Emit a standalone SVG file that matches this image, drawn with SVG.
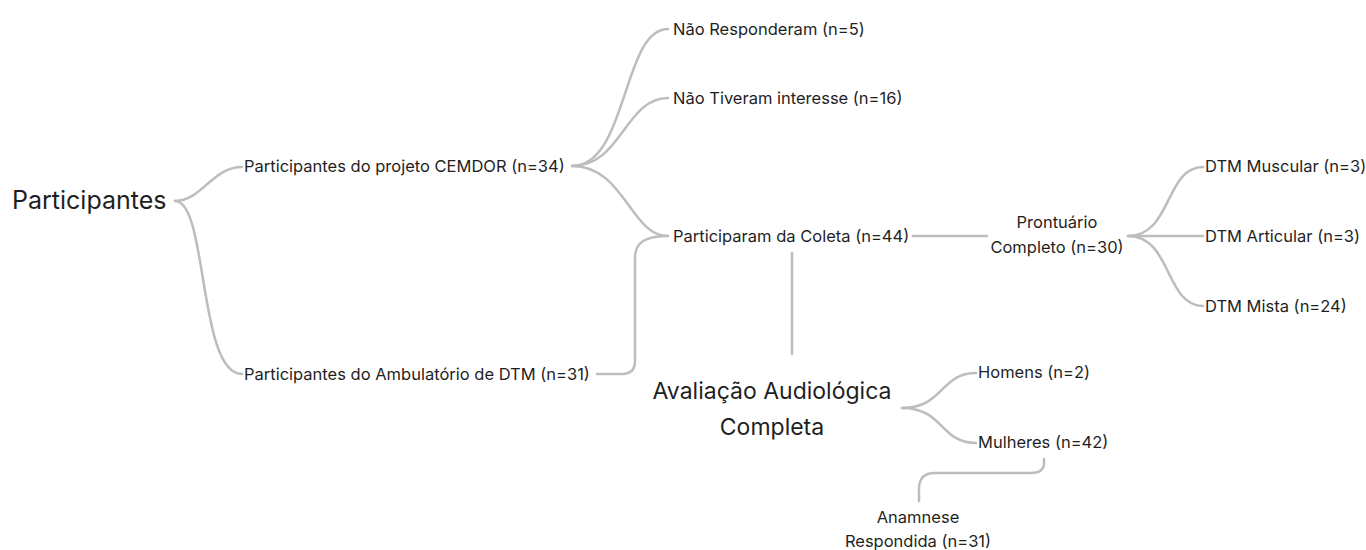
<svg xmlns="http://www.w3.org/2000/svg" width="1366" height="550" viewBox="0 0 1366 550">
<style>
text{font-family:Inter,"Noto Sans","Liberation Sans",sans-serif;fill:#1f1f1f}
.s{font-size:16.5px}
.l{font-size:23px}
.xl{font-size:25px}
.c{stroke:#bdbdbd;stroke-width:2.5;fill:none;stroke-linecap:round}
</style>
<rect width="1366" height="550" fill="#fff"/>
<g id="connectors">
<path class="c" d="M175,201 C202,201 212,167 242,167"/>
<path class="c" d="M175,201 C208,201 198,374 242,374"/>
<path class="c" d="M572,166 C628,166 622,29 668,29"/>
<path class="c" d="M572,166 C622,166 625,98 668,98"/>
<path class="c" d="M572,166 C625,166 630,236 668,236"/>
<path class="c" d="M597,374 L622,374 Q635,374 635,361 L635,258 C635,242 646,236 668,236"/>
<path class="c" d="M792,253 L792,354"/>
<path class="c" d="M913,236 L987,236"/>
<path class="c" d="M1128,236 C1172,236 1165,167 1203,167"/>
<path class="c" d="M1128,236 L1203,236"/>
<path class="c" d="M1128,236 C1172,236 1165,306 1203,306"/>
<path class="c" d="M902,408 C944,408 940,373 976,373"/>
<path class="c" d="M902,408 C944,408 940,443 976,443"/>
<path class="c" d="M1044,459 L1044,463 Q1044,473 1031,473 L935,473 Q919,473 919,489 L919,501"/>
</g>
<g id="n-participantes"><text class="xl" x="12" y="209">Participantes</text></g>
<g id="n-cemdor"><text class="s" x="244" y="172">Participantes do projeto CEMDOR (n=34)</text></g>
<g id="n-ambulatorio"><text class="s" x="244" y="380">Participantes do Ambulatório de DTM (n=31)</text></g>
<g id="n-naoresp"><text class="s" x="673" y="35">Não Responderam (n=5)</text></g>
<g id="n-naotiv"><text class="s" x="673" y="104">Não Tiveram interesse (n=16)</text></g>
<g id="n-coleta"><text class="s" x="673" y="242">Participaram da Coleta (n=44)</text></g>
<g id="n-prontuario"><text class="s" text-anchor="middle" x="1057" y="228">Prontuário</text><text class="s" text-anchor="middle" x="1057" y="253">Completo (n=30)</text></g>
<g id="n-muscular"><text class="s" x="1205" y="172">DTM Muscular (n=3)</text></g>
<g id="n-articular"><text class="s" x="1205" y="242">DTM Articular (n=3)</text></g>
<g id="n-mista"><text class="s" x="1205" y="312">DTM Mista (n=24)</text></g>
<g id="n-avaliacao"><text class="l" text-anchor="middle" x="772" y="399">Avaliação Audiológica</text><text class="l" text-anchor="middle" x="772" y="435">Completa</text></g>
<g id="n-homens"><text class="s" x="978" y="378">Homens (n=2)</text></g>
<g id="n-mulheres"><text class="s" x="978" y="448">Mulheres (n=42)</text></g>
<g id="n-anamnese"><text class="s" text-anchor="middle" x="918" y="523">Anamnese</text><text class="s" text-anchor="middle" x="918" y="546.5">Respondida (n=31)</text></g>
</svg>
